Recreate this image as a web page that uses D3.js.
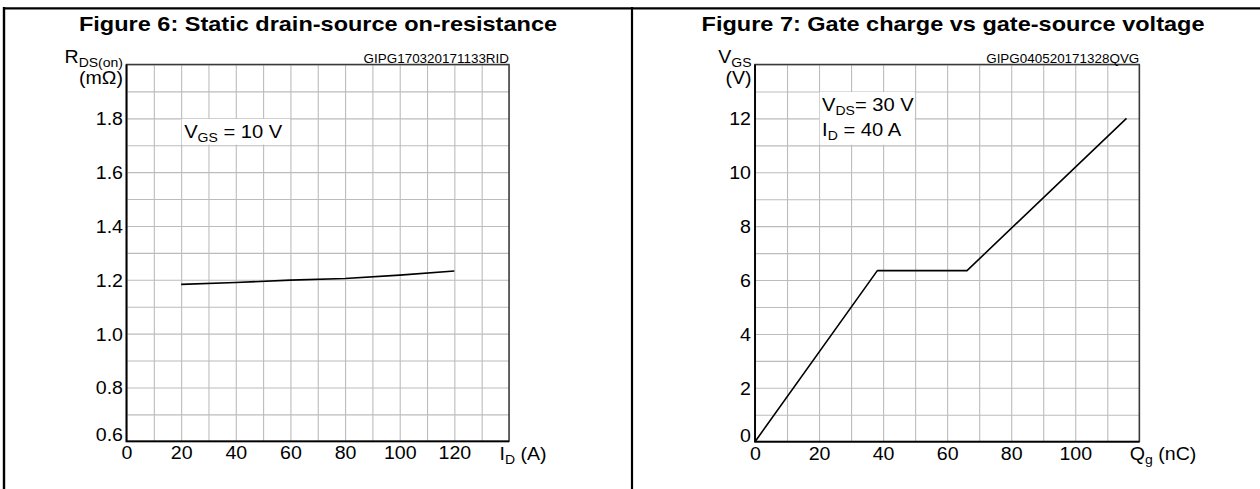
<!DOCTYPE html>
<html>
<head>
<meta charset="utf-8">
<script src="https://cdn.jsdelivr.net/npm/d3@7"></script>
<style>
  body { margin: 0; background: #fff; }
  svg { display: block; }
</style>
</head>
<body>
<script>
// Figure 6: RDS(on) vs drain current (VGS = 10 V)
const idCurrent = [20, 40, 60, 80, 100, 120];
const rdsOn = [1.183, 1.190, 1.199, 1.205, 1.2175, 1.233];
const idTicks = [0, 20, 40, 60, 80, 100, 120];
const rdsTicks = [0.6, 0.8, 1.0, 1.2, 1.4, 1.6, 1.8];

// Figure 7: gate charge vs VGS
const qgCharge = [0, 38.2, 66.2, 116];
const vgsVolts = [0, 6.35, 6.35, 12];
const qgTicks = [0, 20, 40, 60, 80, 100];
const vgsTicks = [0, 2, 4, 6, 8, 10, 12];

// glyphs in the source are a little wider than Arial, so stretch text horizontally
const SX = 1.12;
const FONT = '"Liberation Sans", Arial, Helvetica, sans-serif';

const svg = d3.select('body').append('svg')
    .attr('width', 1260)
    .attr('height', 489)
    .style('font-family', FONT);

// outer frame
svg.append('line').attr('x1', 3).attr('x2', 1260).attr('y1', 8.3).attr('y2', 8.3)
    .attr('stroke', '#000').attr('stroke-width', 2.2);
svg.append('line').attr('x1', 4).attr('x2', 4).attr('y1', 7).attr('y2', 489)
    .attr('stroke', '#000').attr('stroke-width', 2.4);
svg.append('line').attr('x1', 632).attr('x2', 632).attr('y1', 7).attr('y2', 489)
    .attr('stroke', '#000').attr('stroke-width', 2.2);

function label(g, x, y, anchor, size, weight) {
    return g.append('text')
        .attr('transform', `translate(${x},${y}) scale(${SX},1)`)
        .attr('text-anchor', anchor)
        .style('font-size', size + 'px')
        .style('font-weight', weight || 'normal')
        .attr('fill', '#000');
}

// text with a subscript part: main + sub + rest
function subText(t, main, sub, rest) {
    t.append('tspan').text(main);
    t.append('tspan').style('font-size', '12.5px').attr('dy', 4).text(sub);
    if (rest) t.append('tspan').attr('dy', -4).text(rest);
    return t;
}

function drawPanel(p) {
    const x = d3.scaleLinear().domain(p.xDomain).range(p.xRange);
    const y = d3.scaleLinear().domain(p.yDomain).range(p.yRange);
    const g = svg.append('g');
    const h = p.yRange[0] - p.yRange[1];
    const w = p.xRange[1] - p.xRange[0];

    // grid
    g.append('g')
        .attr('transform', `translate(0,${p.yRange[0]})`)
        .call(d3.axisBottom(x).tickValues(x.ticks(p.xGridN)).tickSize(-h).tickFormat(''))
        .call(a => a.select('.domain').remove())
        .selectAll('line').attr('stroke', '#bcbcbc').attr('stroke-width', 1.1);
    g.append('g')
        .attr('transform', `translate(${p.xRange[0]},0)`)
        .call(d3.axisLeft(y).tickValues(y.ticks(p.yGridN)).tickSize(-w).tickFormat(''))
        .call(a => a.select('.domain').remove())
        .selectAll('line').attr('stroke', '#bcbcbc').attr('stroke-width', 1.1);

    // annotation box hides the grid inside it
    const b = p.box;
    g.append('rect')
        .attr('x', x(b.x0) + 0.6)
        .attr('y', y(b.y1) + 0.6)
        .attr('width', x(b.x1) - x(b.x0) - 1.2)
        .attr('height', y(b.y0) - y(b.y1) - 1.2)
        .attr('fill', '#fff');

    // plot frame
    g.append('rect')
        .attr('x', p.xRange[0]).attr('y', p.yRange[1])
        .attr('width', w).attr('height', h)
        .attr('fill', 'none').attr('stroke', '#3a3a3a').attr('stroke-width', 1.5);
    g.append('path')
        .attr('d', `M${p.xRange[0]},${p.yRange[1]}V${p.yRange[0]}H${p.xRange[1]}`)
        .attr('fill', 'none').attr('stroke', '#000').attr('stroke-width', 1.8);

    // curve
    const line = d3.line()
        .x((d, i) => x(p.xs[i]))
        .y(d => y(d));
    g.append('path')
        .datum(p.ys)
        .attr('d', line)
        .attr('fill', 'none')
        .attr('stroke', '#000')
        .attr('stroke-width', 1.6)
        .attr('stroke-linejoin', 'round');

    // tick labels
    const ya = g.append('g')
        .attr('transform', `translate(${p.xRange[0]},0)`)
        .call(d3.axisLeft(y).tickValues(p.yTicks).tickSize(0).tickPadding(p.yPad).tickFormat(p.yFormat))
        .call(a => a.select('.domain').remove());
    ya.selectAll('text')
        .style('font-size', '17.5px').style('font-family', FONT).attr('fill', '#000')
        .attr('x', -p.yPad / SX)
        .attr('dy', (d, i) => i === 0 ? '-0.02em' : '0.37em')
        .attr('transform', `scale(${SX},1)`);

    const xa = g.append('g')
        .attr('transform', `translate(0,${p.yRange[0]})`)
        .call(d3.axisBottom(x).tickValues(p.xTicks).tickSize(0).tickPadding(5.5))
        .call(a => a.select('.domain').remove());
    xa.selectAll('text')
        .style('font-size', '17.5px').style('font-family', FONT).attr('fill', '#000')
        .attr('transform', `scale(${SX},1)`);

    // titles and labels
    label(g, p.titleX, 31, 'middle', 21, 'bold').text(p.title);
    label(g, p.xRange[1], 62.5, 'end', 12).text(p.code);
    subText(label(g, p.xRange[0] - 3.5, 62.5, 'end', 17.5), p.yName[0], p.yName[1]);
    label(g, p.xRange[0] - 3.5, 84, 'end', 17.5).text(p.yUnit);
    subText(label(g, p.xRange[1] - 9.5, 460, 'start', 17.5), p.xName[0], p.xName[1], p.xName[2]);

    p.notes.forEach(n => {
        subText(label(g, x(b.x0) + 3, n.y, 'start', 18), n.t[0], n.t[1], n.t[2]);
    });
}

drawPanel({
    xDomain: [0, 140], xRange: [126.5, 509],
    yDomain: [0.6, 2.0], yRange: [441.3, 64.5],
    xGridN: 14, yGridN: 14,
    xs: idCurrent, ys: rdsOn,
    xTicks: idTicks, yTicks: rdsTicks, yFormat: d3.format('.1f'), yPad: 3.5,
    box: { x0: 20, x1: 60, y0: 1.7, y1: 1.8 },
    notes: [{ y: 137.5, t: ['V', 'GS', ' = 10 V'] }],
    title: 'Figure 6: Static drain-source on-resistance', titleX: 318,
    code: 'GIPG170320171133RID',
    yName: ['R', 'DS(on)'], yUnit: '(m\u03A9)',
    xName: ['I', 'D', ' (A)']
});

drawPanel({
    xDomain: [0, 120], xRange: [755, 1139.3],
    yDomain: [0, 14], yRange: [441.7, 64.5],
    xGridN: 12, yGridN: 14,
    xs: qgCharge, ys: vgsVolts,
    xTicks: qgTicks, yTicks: vgsTicks, yFormat: d3.format('d'), yPad: 4,
    box: { x0: 20, x1: 50, y0: 11, y1: 13 },
    notes: [{ y: 111, t: ['V', 'DS', '= 30 V'] }, { y: 135.5, t: ['I', 'D', ' = 40 A'] }],
    title: 'Figure 7: Gate charge vs gate-source voltage', titleX: 953,
    code: 'GIPG040520171328QVG',
    yName: ['V', 'GS'], yUnit: '(V)',
    xName: ['Q', 'g', ' (nC)']
});
</script>
</body>
</html>
